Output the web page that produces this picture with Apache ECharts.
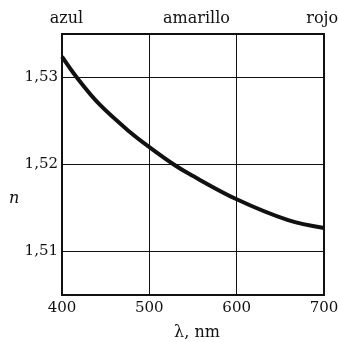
<!DOCTYPE html>
<html>
<head>
<meta charset="utf-8">
<script src="https://cdn.jsdelivr.net/npm/echarts@6/dist/echarts.min.js"></script>
<style>
  html, body { margin: 0; padding: 0; background: #fff; }
  #chart { width: 339px; height: 342px; }
</style>
</head>
<body>
<div id="chart"></div>
<script>
// Refractive index n of glass against wavelength λ (nm)
const wavelengths = [400, 417, 443, 477, 500, 528, 546, 600, 659, 700];
const indexValues = [1.5324, 1.5300, 1.5269, 1.5238, 1.5220, 1.5200, 1.5189, 1.5160, 1.5136, 1.5127];
const xTicks = [400, 500, 600, 700];
const yTicks = [1.51, 1.52, 1.53];
const colourNames = ['azul', 'amarillo', 'rojo'];
const colourTicks = [405, 554, 698];

const ink = '#111';
const serif = '"DejaVu Serif", "Liberation Serif", serif';

const chart = echarts.init(document.getElementById('chart'));
chart.setOption({
  animation: false,
  backgroundColor: '#fff',
  grid: { left: 62, right: 15, top: 34, bottom: 47, outerBoundsMode: 'none', containLabel: false,
    show: true, borderColor: ink, borderWidth: 2, backgroundColor: 'transparent' },
  xAxis: [
    {
      type: 'value', min: 400, max: 700, interval: 100, position: 'bottom',
      axisLine: { show: false }, axisTick: { show: false },
      splitLine: { show: true, lineStyle: { color: ink, width: 1 } },
      axisLabel: { color: ink, fontFamily: serif, fontSize: 15, margin: 6,
        customValues: xTicks, formatter: v => String(v) },
      name: 'λ, nm', nameLocation: 'middle', nameGap: 30,
      nameTextStyle: { color: ink, fontFamily: serif, fontSize: 16, padding: [0, 0, 0, 8] }
    },
    {
      type: 'value', min: 400, max: 700, position: 'top',
      axisLine: { show: false }, axisTick: { show: false }, splitLine: { show: false },
      axisLabel: { color: ink, fontFamily: serif, fontSize: 16, margin: 7,
        customValues: colourTicks,
        formatter: v => colourNames[colourTicks.indexOf(v)] || '' }
    }
  ],
  yAxis: {
    type: 'value', min: 1.505, max: 1.535,
    axisLine: { show: false }, axisTick: { show: false }, splitLine: { show: false },
    axisLabel: { color: ink, fontFamily: serif, fontSize: 15, margin: 4,
      customValues: yTicks, formatter: v => v.toFixed(2).replace('.', ',') }
  },
  graphic: [{
    type: 'text', left: 9, top: 191,
    style: { text: 'n', fill: ink, font: 'italic 16px ' + serif }
  }],
  series: [{
    type: 'line', smooth: 0.35, symbol: 'none',
    data: wavelengths.map((w, i) => [w, indexValues[i]]),
    lineStyle: { color: ink, width: 4 },
    markLine: {
      silent: true, symbol: 'none', label: { show: false },
      lineStyle: { color: ink, width: 1, type: 'solid' },
      data: yTicks.map(v => ({ yAxis: v }))
    }
  }]
});
</script>
</body>
</html>
